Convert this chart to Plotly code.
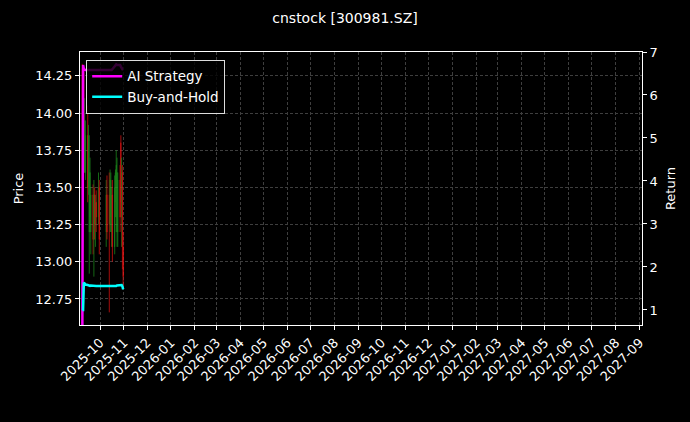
import plotly.graph_objects as go

# daily bars (Shenzhen trading days, National Day break in early Oct)
trade_dates = ["2025-09-08", "2025-09-09", "2025-09-10", "2025-09-11", "2025-09-12",
               "2025-09-15", "2025-09-16", "2025-09-17", "2025-09-18", "2025-09-19",
               "2025-09-22", "2025-09-23", "2025-09-24", "2025-09-25", "2025-09-26",
               "2025-09-29", "2025-09-30",
               "2025-10-09", "2025-10-10", "2025-10-13", "2025-10-14", "2025-10-15",
               "2025-10-16", "2025-10-17", "2025-10-20", "2025-10-21", "2025-10-22",
               "2025-10-23", "2025-10-24", "2025-10-27", "2025-10-28", "2025-10-29",
               "2025-10-30", "2025-10-31"]

open_px  = [14.30, 13.60, 14.00, 13.60, 13.60, 13.85, 13.50, 13.20, 13.30, 13.20,
            13.45, 13.15, 13.45, 13.25, 13.40, 13.30, 13.50,
            13.20, 13.45, 13.45, 13.25, 13.30, 13.20, 13.45, 13.10, 13.40, 13.30,
            13.20, 13.20, 13.55, 13.80, 13.30, 13.60, 13.10]
high_px  = [14.33, 14.05, 14.28, 14.10, 13.95, 14.05, 13.92, 13.85, 13.70, 13.50,
            13.52, 13.55, 13.50, 13.45, 13.48, 13.60, 13.55,
            13.55, 13.58, 13.60, 13.62, 13.60, 13.50, 13.55, 13.58, 13.62, 13.75,
            13.70, 13.60, 13.65, 13.85, 13.70, 13.65, 13.20]
low_px   = [13.45, 13.50, 13.85, 13.60, 13.55, 13.40, 13.45, 12.92, 13.20, 13.05,
            13.05, 12.90, 13.15, 13.10, 13.20, 13.25, 13.05,
            13.10, 13.15, 12.66, 13.20, 13.20, 13.10, 13.00, 13.05, 13.30, 13.20,
            13.10, 13.10, 13.20, 13.30, 13.10, 12.95, 12.82]
close_px = [13.55, 14.00, 13.90, 13.95, 13.85, 13.50, 13.85, 13.60, 13.60, 13.45,
            13.15, 13.45, 13.25, 13.40, 13.30, 13.50, 13.15,
            13.45, 13.20, 13.25, 13.55, 13.55, 13.45, 13.10, 13.50, 13.60, 13.65,
            13.60, 13.55, 13.30, 13.40, 13.60, 13.10, 12.90]

ai_return = [0.00, 6.70, 6.60, 6.58, 6.58, 6.58, 6.58, 6.58, 6.58, 6.58,
             6.58, 6.58, 6.58, 6.58, 6.58, 6.58, 6.58,
             6.58, 6.58, 6.58, 6.58, 6.58, 6.58, 6.60, 6.68, 6.70, 6.71,
             6.70, 6.70, 6.70, 6.66, 6.62, 6.60, 6.60]
bh_return = [1.00, 1.00, 1.64, 1.61, 1.59, 1.58, 1.57, 1.57, 1.56, 1.57,
             1.56, 1.56, 1.56, 1.56, 1.56, 1.56, 1.56,
             1.56, 1.56, 1.55, 1.56, 1.56, 1.56, 1.56, 1.56, 1.56, 1.56,
             1.57, 1.57, 1.58, 1.57, 1.58, 1.55, 1.48]

price_ticks = [12.75, 13.00, 13.25, 13.50, 13.75, 14.00, 14.25]
return_ticks = [1, 2, 3, 4, 5, 6, 7]

fnt = "DejaVu Sans"
grid_col = "#3e3e3e"

fig = go.Figure()

fig.add_trace(go.Candlestick(
    x=trade_dates, open=open_px, high=high_px, low=low_px, close=close_px,
    increasing=dict(line=dict(color="#22a022", width=0.8), fillcolor="#22a022"),
    decreasing=dict(line=dict(color="#ff1414", width=0.8), fillcolor="#ff1414"),
    whiskerwidth=0, opacity=0.8, showlegend=False, yaxis="y"))

fig.add_trace(go.Scatter(x=trade_dates, y=ai_return, name="AI Strategy", mode="lines",
                         line=dict(color="#ff00ff", width=2.5), yaxis="y2"))
fig.add_trace(go.Scatter(x=trade_dates, y=bh_return, name="Buy-and-Hold", mode="lines",
                         line=dict(color="#00ffff", width=2.5), yaxis="y2"))

fig.update_layout(
    width=690, height=422,
    paper_bgcolor="black", plot_bgcolor="black",
    margin=dict(l=80, r=48, t=52, b=97),
    font=dict(family=fnt, color="white", size=13),
    title=dict(text="cnstock [300981.SZ]", x=0.5, xref="container", xanchor="center",
               y=0.957, yanchor="middle", font=dict(size=14, color="white")),
    legend=dict(x=0.011, y=0.971, xanchor="left", yanchor="top",
                bgcolor="rgba(0,0,0,0.8)", bordercolor="#dddddd", borderwidth=1,
                font=dict(size=13.5, color="white"), tracegroupgap=0, itemwidth=30),
    xaxis=dict(type="date", range=["2025-09-05", "2027-09-04"],
               tick0="2025-10-01", dtick="M1", tickformat="%Y-%m", tickangle=-45,
               showline=True, linecolor="white", linewidth=1, mirror=True,
               ticks="outside", ticklen=4, tickcolor="white",
               showgrid=True, gridcolor=grid_col, griddash="3px,2px", gridwidth=0.6,
               zeroline=False, rangeslider=dict(visible=False)),
    yaxis=dict(title=dict(text="Price", standoff=8, font=dict(size=13)),
               range=[12.575, 14.41], tickvals=price_ticks, tickformat=".2f",
               showline=True, linecolor="white", linewidth=1,
               ticks="outside", ticklen=4, tickcolor="white",
               showgrid=True, gridcolor=grid_col, griddash="3px,2px", gridwidth=0.6,
               zeroline=False),
    yaxis2=dict(title=dict(text="Return", standoff=9, font=dict(size=13)),
                range=[0.65, 7.0], tickvals=return_ticks, overlaying="y", side="right",
                showline=True, linecolor="white", linewidth=1,
                ticks="outside", ticklen=4, tickcolor="white",
                showgrid=False, zeroline=False),
)

# drop the page margin so the 690x422 figure fills the window exactly
fig.write_html("out.html", config={"displayModeBar": False},
               post_script="document.body.style.margin='0';")
